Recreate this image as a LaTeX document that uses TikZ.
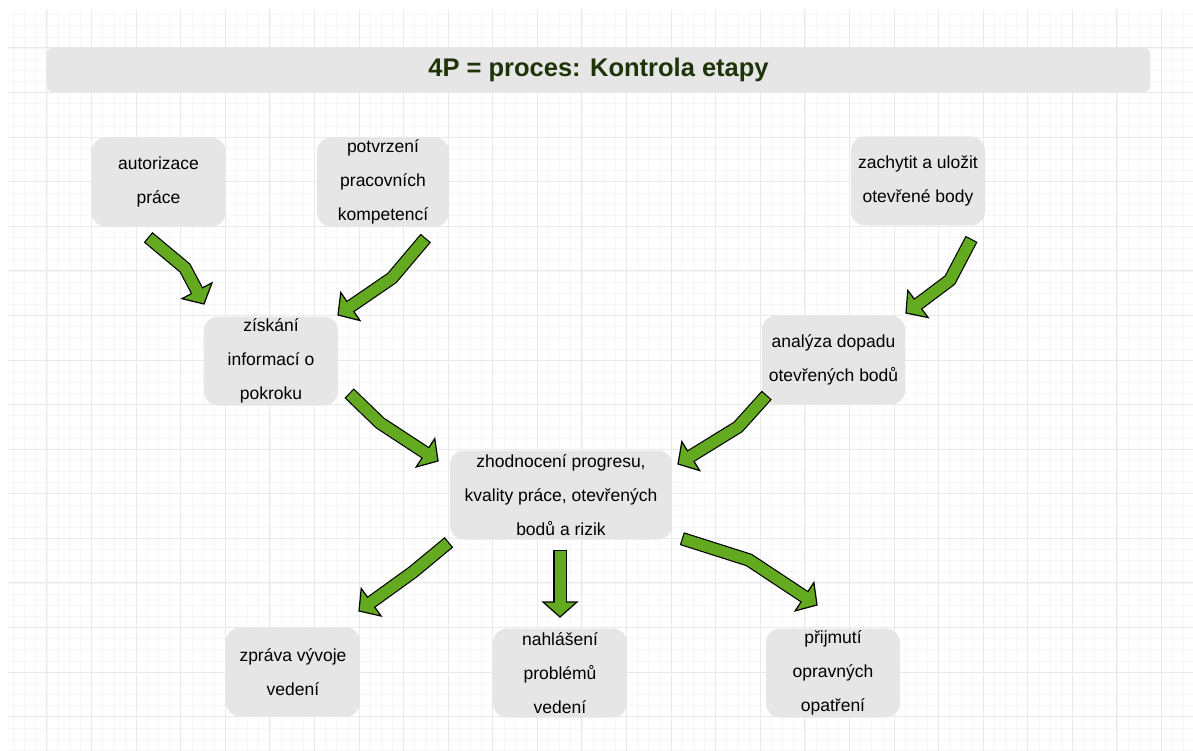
\documentclass[tikz,border=0pt]{standalone}
\usepackage{fontspec}
\setmainfont{Liberation Sans}
\usetikzlibrary{calc}

\definecolor{gridminor}{RGB}{246,246,246}
\definecolor{gridmajor}{RGB}{233,233,233}
\definecolor{boxgray}{RGB}{230,230,230}
\definecolor{titlegreen}{RGB}{30,52,8}
\definecolor{arrowgreen}{RGB}{100,170,32}

\tikzset{
  minorgrid/.style={draw=gridminor, line width=0.7pt},
  majorgrid/.style={draw=gridmajor, line width=1pt},
  stepbox/.style={fill=boxgray, draw=none, rounded corners=14pt, inner sep=0pt,
    minimum width=134pt, minimum height=89pt, align=center, text=black,
    font=\fontsize{17.5}{34}\selectfont},
  titlebox/.style={fill=boxgray, draw=none, rounded corners=6pt, inner sep=0pt,
    minimum width=1103pt, minimum height=44pt, text=titlegreen,
    font=\fontsize{25.5}{30}\selectfont\bfseries},
  arrowrim/.style={draw=black, line width=13.4pt, line join=miter},
  arrowbody/.style={draw=arrowgreen, line width=11pt, line join=miter},
  arrowtip/.style={fill=arrowgreen, draw=black, line width=1.2pt, line join=miter},
}

% thick green block arrow: tail #1, bend #2, tip #3
\newcommand\greenarrow[3]{%
  \coordinate (#3-base) at ($(#3)!15pt!(#2)$);
  \coordinate (#3-l) at ($(#3-base)!17pt!90:(#3)$);
  \coordinate (#3-r) at ($(#3-base)!17pt!-90:(#3)$);
  \draw[arrowrim] ($(#1)!-1.2pt!(#2)$) -- (#2) -- ($(#3-base)!-2pt!(#2)$);
  \filldraw[arrowtip] (#3) -- (#3-l) -- (#3-r) -- cycle;
  \draw[arrowbody] (#1) -- (#2) -- ($(#3-base)!-2pt!(#2)$);
}

\begin{document}
\begin{tikzpicture}[x=1pt, y=-1pt]
\useasboundingbox (0,0) rectangle (1193,751);
\fill[white] (0,0) rectangle (1193,751);

% background grid
\begin{scope}
  \clip (8,11) rectangle (1193,751);
  \foreach \i in {0,...,107}{
    \pgfmathsetmacro\gx{2.4+11.145*\i}
    \draw[minorgrid] (\gx,0) -- (\gx,751);
  }
  \foreach \j in {0,...,67}{
    \pgfmathsetmacro\gy{3.42+11.145*\j}
    \draw[minorgrid] (0,\gy) -- (1193,\gy);
  }
  \foreach \i in {0,...,26}{
    \pgfmathsetmacro\gx{2.4+44.58*\i}
    \draw[majorgrid] (\gx,0) -- (\gx,751);
  }
  \foreach \j in {0,...,16}{
    \pgfmathsetmacro\gy{3.42+44.58*\j}
    \draw[majorgrid] (0,\gy) -- (1193,\gy);
  }
\end{scope}

% title
\node[titlebox] (title) at (598.5,70) {4P = proces: Kontrola etapy};

% process steps
\node[stepbox] (autor) at (158.5,182) {autorizace\\práce};
\node[stepbox, minimum width=132pt] (potvr) at (383,182) {potvrzení\\pracovních\\kompetencí};
\node[stepbox] (zachyt) at (918,181) {zachytit a uložit\\otevřené body};
\node[stepbox] (ziskani) at (271,361) {získání\\informací o\\pokroku};
\node[stepbox, minimum width=143pt] (analyza) at (833.5,360) {analýza dopadu\\otevřených bodů};
\node[stepbox, minimum width=222pt] (zhodn) at (561,495) {zhodnocení progresu,\\kvality práce, otevřených\\bodů a rizik};
\node[stepbox] (zprava) at (293,672) {zpráva vývoje\\vedení};
\node[stepbox] (nahlas) at (560,673) {nahlášení\\problémů\\vedení};
\node[stepbox] (prijm) at (833,673) {přijmutí\\opravných\\opatření};

% arrow paths
\coordinate (a1t) at (149,238); \coordinate (a1b) at (185,268); \coordinate (a1p) at (204,304);
\coordinate (a2t) at (425,239); \coordinate (a2b) at (392,278); \coordinate (a2p) at (338,315);
\coordinate (a3t) at (350,394); \coordinate (a3b) at (380,423); \coordinate (a3p) at (438,461);
\coordinate (a4t) at (971,240); \coordinate (a4b) at (950,280); \coordinate (a4p) at (906,313);
\coordinate (a5t) at (766,396); \coordinate (a5b) at (738,427); \coordinate (a5p) at (678,464);
\coordinate (a6t) at (448,543); \coordinate (a6b) at (413,572); \coordinate (a6p) at (359,611);
\coordinate (a7t) at (560,551); \coordinate (a7b) at (560,580); \coordinate (a7p) at (560,617);
\coordinate (a8t) at (683,539); \coordinate (a8b) at (749,560); \coordinate (a8p) at (817,605);

\greenarrow{a1t}{a1b}{a1p}
\greenarrow{a2t}{a2b}{a2p}
\greenarrow{a3t}{a3b}{a3p}
\greenarrow{a4t}{a4b}{a4p}
\greenarrow{a5t}{a5b}{a5p}
\greenarrow{a6t}{a6b}{a6p}
\greenarrow{a7t}{a7b}{a7p}
\greenarrow{a8t}{a8b}{a8p}
\end{tikzpicture}
\end{document}
